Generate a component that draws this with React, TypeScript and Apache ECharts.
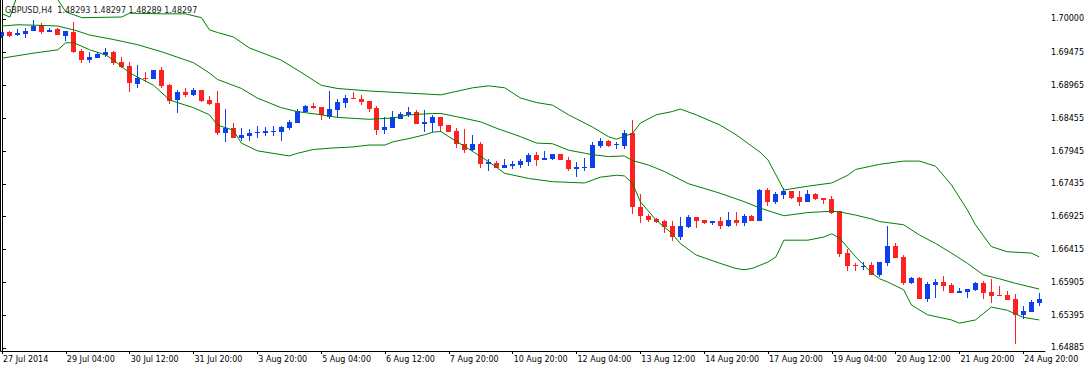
import React, { useEffect, useRef } from "react";
import * as echarts from "echarts";

const title = "GBPUSD,H4  1.48293 1.48297 1.48289 1.48297";

// x-axis tick labels, one every 8 H4 bars starting at bar 0
const tickLabels = [
  "27 Jul 2014", "29 Jul 04:00", "30 Jul 12:00", "31 Jul 20:00", "3 Aug 20:00", "5 Aug 04:00",
  "6 Aug 12:00", "7 Aug 20:00", "10 Aug 20:00", "12 Aug 04:00", "13 Aug 12:00", "14 Aug 20:00",
  "17 Aug 20:00", "19 Aug 04:00", "20 Aug 12:00", "21 Aug 20:00", "24 Aug 20:00",
];

const priceTicks = [1.70000, 1.69475, 1.68965, 1.68455, 1.67945, 1.67435, 1.66925, 1.66415, 1.65905, 1.65395, 1.64885];

const opens = [
  1.6974, 1.6980, 1.6975, 1.6977, 1.6982, 1.6990, 1.6980, 1.6984, 1.6974, 1.6980,
  1.6950, 1.6936, 1.6940, 1.6944, 1.6949, 1.6933, 1.6927, 1.6899, 1.6908, 1.6907,
  1.6920, 1.6897, 1.6874, 1.6886, 1.6881, 1.6889, 1.6874, 1.6869, 1.6823, 1.6830,
  1.6815, 1.6818, 1.6822, 1.6823, 1.6824, 1.6824, 1.6831, 1.6839, 1.6856, 1.6865,
  1.6863, 1.6847, 1.6859, 1.6870, 1.6877, 1.6876, 1.6872, 1.6862, 1.6827, 1.6830,
  1.6845, 1.6850, 1.6855, 1.6837, 1.6839, 1.6848, 1.6835, 1.6826, 1.6806, 1.6796,
  1.6806, 1.6774, 1.6776, 1.6769, 1.6771, 1.6773, 1.6778, 1.6789, 1.6781, 1.6783,
  1.6790, 1.6781, 1.6766, 1.6769, 1.6769, 1.6803, 1.6810, 1.6804, 1.6803, 1.6823,
  1.6708, 1.6694, 1.6689, 1.6686, 1.6678, 1.6661, 1.6677, 1.6692, 1.6687, 1.6683,
  1.6686, 1.6678, 1.6687, 1.6683, 1.6694, 1.6686, 1.6734, 1.6715, 1.6726, 1.6733,
  1.6723, 1.6715, 1.6728, 1.6722, 1.6720, 1.6701, 1.6636, 1.6617, 1.6615, 1.6617,
  1.6602, 1.6620, 1.6647, 1.6630, 1.6589, 1.6597, 1.6565, 1.6586, 1.6591, 1.6586,
  1.6574, 1.6575, 1.6579, 1.6589, 1.6575, 1.6571, 1.6571, 1.6565, 1.6540, 1.6544,
  1.6558,
];
const highs = [
  1.6980, 1.6981, 1.6984, 1.6986, 1.6999, 1.6993, 1.6986, 1.6986, 1.6981, 1.6995,
  1.6953, 1.6948, 1.6948, 1.6955, 1.6950, 1.6941, 1.6933, 1.6928, 1.6917, 1.6920,
  1.6925, 1.6899, 1.6889, 1.6892, 1.6892, 1.6889, 1.6880, 1.6888, 1.6860, 1.6838,
  1.6830, 1.6829, 1.6834, 1.6832, 1.6834, 1.6834, 1.6843, 1.6860, 1.6867, 1.6869,
  1.6863, 1.6888, 1.6875, 1.6882, 1.6886, 1.6882, 1.6872, 1.6865, 1.6848, 1.6857,
  1.6855, 1.6863, 1.6858, 1.6858, 1.6851, 1.6848, 1.6835, 1.6830, 1.6829, 1.6820,
  1.6809, 1.6782, 1.6779, 1.6782, 1.6779, 1.6782, 1.6792, 1.6793, 1.6795, 1.6790,
  1.6790, 1.6786, 1.6778, 1.6784, 1.6809, 1.6815, 1.6812, 1.6809, 1.6827, 1.6843,
  1.6728, 1.6697, 1.6690, 1.6687, 1.6686, 1.6692, 1.6695, 1.6692, 1.6687, 1.6686,
  1.6692, 1.6700, 1.6700, 1.6697, 1.6695, 1.6736, 1.6737, 1.6731, 1.6737, 1.6733,
  1.6733, 1.6734, 1.6729, 1.6722, 1.6725, 1.6701, 1.6642, 1.6621, 1.6622, 1.6622,
  1.6622, 1.6678, 1.6652, 1.6633, 1.6599, 1.6599, 1.6591, 1.6596, 1.6600, 1.6589,
  1.6582, 1.6580, 1.6591, 1.6593, 1.6596, 1.6585, 1.6577, 1.6572, 1.6554, 1.6563,
  1.6574,
];
const lows = [
  1.6970, 1.6972, 1.6974, 1.6971, 1.6982, 1.6977, 1.6979, 1.6975, 1.6966, 1.6947,
  1.6932, 1.6932, 1.6940, 1.6941, 1.6928, 1.6923, 1.6887, 1.6892, 1.6902, 1.6907,
  1.6892, 1.6868, 1.6854, 1.6878, 1.6880, 1.6871, 1.6866, 1.6820, 1.6809, 1.6815,
  1.6811, 1.6811, 1.6815, 1.6818, 1.6818, 1.6811, 1.6828, 1.6839, 1.6856, 1.6860,
  1.6843, 1.6844, 1.6847, 1.6862, 1.6875, 1.6867, 1.6856, 1.6820, 1.6821, 1.6830,
  1.6845, 1.6848, 1.6837, 1.6824, 1.6824, 1.6824, 1.6824, 1.6800, 1.6792, 1.6795,
  1.6769, 1.6764, 1.6769, 1.6769, 1.6766, 1.6769, 1.6772, 1.6772, 1.6780, 1.6780,
  1.6780, 1.6764, 1.6755, 1.6764, 1.6769, 1.6799, 1.6801, 1.6798, 1.6798, 1.6697,
  1.6683, 1.6685, 1.6683, 1.6667, 1.6655, 1.6657, 1.6675, 1.6675, 1.6681, 1.6680,
  1.6673, 1.6677, 1.6678, 1.6678, 1.6686, 1.6686, 1.6709, 1.6712, 1.6720, 1.6720,
  1.6709, 1.6715, 1.6719, 1.6712, 1.6697, 1.6630, 1.6608, 1.6608, 1.6610, 1.6602,
  1.6599, 1.6616, 1.6628, 1.6586, 1.6588, 1.6565, 1.6560, 1.6566, 1.6577, 1.6574,
  1.6574, 1.6566, 1.6577, 1.6565, 1.6558, 1.6569, 1.6563, 1.6495, 1.6533, 1.6544,
  1.6554,
];
const closes = [
  1.6980, 1.6974, 1.6978, 1.6982, 1.6989, 1.6980, 1.6983, 1.6975, 1.6981, 1.6948,
  1.6936, 1.6941, 1.6946, 1.6949, 1.6932, 1.6926, 1.6900, 1.6908, 1.6907, 1.6920,
  1.6896, 1.6873, 1.6886, 1.6881, 1.6889, 1.6872, 1.6868, 1.6823, 1.6830, 1.6815,
  1.6820, 1.6823, 1.6824, 1.6826, 1.6826, 1.6832, 1.6840, 1.6857, 1.6864, 1.6862,
  1.6850, 1.6860, 1.6871, 1.6877, 1.6875, 1.6871, 1.6860, 1.6827, 1.6832, 1.6848,
  1.6853, 1.6855, 1.6837, 1.6840, 1.6848, 1.6834, 1.6824, 1.6805, 1.6796, 1.6806,
  1.6775, 1.6777, 1.6769, 1.6773, 1.6775, 1.6779, 1.6789, 1.6781, 1.6784, 1.6790,
  1.6780, 1.6766, 1.6770, 1.6770, 1.6804, 1.6810, 1.6803, 1.6805, 1.6823, 1.6707,
  1.6693, 1.6688, 1.6684, 1.6677, 1.6661, 1.6678, 1.6692, 1.6686, 1.6683, 1.6686,
  1.6678, 1.6687, 1.6683, 1.6694, 1.6686, 1.6734, 1.6715, 1.6728, 1.6733, 1.6722,
  1.6715, 1.6728, 1.6720, 1.6719, 1.6698, 1.6635, 1.6616, 1.6616, 1.6616, 1.6602,
  1.6622, 1.6647, 1.6628, 1.6589, 1.6597, 1.6565, 1.6588, 1.6591, 1.6585, 1.6574,
  1.6577, 1.6580, 1.6589, 1.6574, 1.6569, 1.6570, 1.6563, 1.6540, 1.6546, 1.6560,
  1.6565,
];

// Bollinger band readings: [bar index, price]
const upperBand: [number, number][] = [
  [0, 1.7008], [1, 1.7003], [2, 1.7040], [6, 1.7040], [7, 1.7030], [8, 1.7011], [10, 1.7002],
  [15, 1.7003], [16, 1.7009], [20, 1.7008], [23, 1.7008], [25, 1.7002], [26, 1.6983], [27, 1.6979],
  [29, 1.6972], [31, 1.6955], [35, 1.6936], [38, 1.6913], [40, 1.6897], [42, 1.6892], [46, 1.6888],
  [49, 1.6886], [52, 1.6884], [55, 1.6882], [59, 1.6893], [61, 1.6896], [63, 1.6893], [65, 1.6877],
  [67, 1.6870], [69, 1.6866], [71, 1.6851], [74, 1.6832], [76, 1.6817], [77, 1.6813], [79, 1.6822],
  [80, 1.6838], [82, 1.6851], [84, 1.6856], [85, 1.6860], [87, 1.6851], [90, 1.6835], [92, 1.6820],
  [95, 1.6793], [96, 1.6781], [98, 1.6734], [101, 1.6740], [104, 1.6745], [106, 1.6757], [107, 1.6766],
  [110, 1.6774], [113, 1.6779], [115, 1.6779], [117, 1.6771], [119, 1.6742], [121, 1.6703], [122, 1.6680],
  [124, 1.6646], [126, 1.6638], [129, 1.6636], [130, 1.6630],
];
const middleBand: [number, number][] = [
  [0, 1.6989], [2, 1.6991], [5, 1.6990], [7, 1.6989], [9, 1.6983], [11, 1.6975], [14, 1.6968],
  [17, 1.6960], [20, 1.6949], [24, 1.6932], [26, 1.6916], [27, 1.6906], [30, 1.6892], [32, 1.6877],
  [35, 1.6862], [37, 1.6856], [40, 1.6851], [42, 1.6847], [46, 1.6844], [49, 1.6846], [51, 1.6851],
  [54, 1.6853], [55, 1.6853], [57, 1.6848], [60, 1.6840], [62, 1.6830], [65, 1.6817], [67, 1.6807],
  [69, 1.6806], [71, 1.6796], [74, 1.6789], [76, 1.6786], [78, 1.6787], [79, 1.6780], [81, 1.6773],
  [83, 1.6763], [86, 1.6744], [90, 1.6729], [93, 1.6716], [95, 1.6706], [97, 1.6698], [98, 1.6694],
  [101, 1.6699], [104, 1.6701], [105, 1.6700], [107, 1.6695], [109, 1.6689], [110, 1.6685], [113, 1.6680],
  [115, 1.6664], [117, 1.6651], [119, 1.6636], [121, 1.6620], [123, 1.6602], [125, 1.6596], [127, 1.6589],
  [130, 1.6580],
];
const lowerBand: [number, number][] = [
  [0, 1.6939], [4, 1.6947], [7, 1.6952], [8, 1.6963], [9, 1.6963], [11, 1.6952], [13, 1.6944],
  [14, 1.6936], [16, 1.6916], [19, 1.6897], [21, 1.6874], [24, 1.6862], [26, 1.6851], [27, 1.6835],
  [29, 1.6827], [30, 1.6807], [32, 1.6795], [36, 1.6787], [37, 1.6791], [39, 1.6797], [41, 1.6799],
  [44, 1.6801], [46, 1.6804], [48, 1.6804], [49, 1.6809], [51, 1.6814], [53, 1.6820], [54, 1.6824],
  [55, 1.6825], [56, 1.6817], [59, 1.6794], [61, 1.6778], [63, 1.6760], [66, 1.6752], [69, 1.6747],
  [73, 1.6745], [75, 1.6754], [77, 1.6757], [78, 1.6756], [79, 1.6745], [80, 1.6716], [82, 1.6687],
  [84, 1.6666], [85, 1.6651], [87, 1.6633], [90, 1.6620], [92, 1.6612], [93, 1.6610], [94, 1.6612],
  [96, 1.6622], [97, 1.6630], [98, 1.6656], [101, 1.6656], [103, 1.6661], [104, 1.6666], [105, 1.6659],
  [107, 1.6630], [109, 1.6605], [110, 1.6596], [111, 1.6591], [113, 1.6579], [114, 1.6555], [116, 1.6540],
  [119, 1.6532], [120, 1.6527], [122, 1.6532], [124, 1.6552], [126, 1.6547], [128, 1.6536], [130, 1.6532],
];

const BULL = "#0b3ff0";
const BEAR = "#ff2121";
const BAND = "#008000";
const FONT = "DejaVu Sans";

export default function App() {
  const ref = useRef<HTMLDivElement>(null);

  useEffect(() => {
    if (!ref.current) return;
    const chart = echarts.init(ref.current, undefined, { renderer: "svg" });
    const candleData = opens.map((o, i) => [i, o, highs[i], lows[i], closes[i]]);
    const bandSeries = (name: string, data: [number, number][]) => ({
      name,
      type: "line",
      data,
      symbol: "none",
      z: 5,
      lineStyle: { color: BAND, width: 1 },
      silent: true,
    });

    chart.setOption({
      animation: false,
      backgroundColor: "#ffffff",
      grid: { left: 0, right: 40, top: 0, bottom: 18, containLabel: false },
      xAxis: {
        type: "value",
        min: -0.1625,
        max: 130.7125,
        axisLine: { show: true, lineStyle: { color: "#000", width: 1 } },
        axisTick: {
          show: true,
          length: 3,
          lineStyle: { color: "#000" },
          customValues: tickLabels.map((_, k) => k * 8),
        },
        axisLabel: {
          show: true,
          customValues: tickLabels.map((_, k) => k * 8),
          formatter: (v: number) => tickLabels[Math.round(v / 8)] ?? "",
          align: "left",
          margin: 4,
          fontSize: 8,
          fontFamily: FONT,
          color: "#000",
          padding: [0, 0, 0, 1],
        },
        splitLine: { show: false },
      },
      yAxis: {
        type: "value",
        position: "right",
        min: 1.64837,
        max: 1.70295,
        scale: true,
        axisLine: { show: true, lineStyle: { color: "#000", width: 1 } },
        axisTick: { show: true, length: 4, lineStyle: { color: "#000" }, customValues: priceTicks },
        axisLabel: {
          show: true,
          customValues: priceTicks,
          formatter: (v: number) => v.toFixed(5),
          margin: 6,
          fontSize: 8,
          fontFamily: FONT,
          color: "#000",
        },
        splitLine: { show: false },
      },
      graphic: [
        {
          type: "line",
          shape: { x1: 0.5, y1: 0, x2: 0.5, y2: 351 },
          style: { stroke: "#000", lineWidth: 1 },
          z: 100,
        },
        {
          type: "text",
          x: 5,
          y: 10,
          z: 100,
          style: {
            text: title,
            font: `8px "${FONT}"`,
            fill: "#222",
            textVerticalAlign: "middle",
          },
        },
      ],
      series: [
        {
          type: "custom",
          name: "candles",
          data: candleData,
          clip: true,
          z: 2,
          encode: { x: 0, y: [1, 2, 3, 4] },
          renderItem: (params: any, api: any) => {
            const i = api.value(0);
            const o = api.value(1);
            const h = api.value(2);
            const l = api.value(3);
            const c = api.value(4);
            const po = api.coord([i, o]);
            const pc = api.coord([i, c]);
            const ph = api.coord([i, h]);
            const pl = api.coord([i, l]);
            const cx = Math.floor(po[0]);
            const color = c >= o ? BULL : BEAR;
            const yTop = Math.round(Math.min(po[1], pc[1]));
            const yBot = Math.round(Math.max(po[1], pc[1]));
            const yH = Math.round(ph[1]);
            const yL = Math.round(pl[1]);
            return {
              type: "group",
              children: [
                {
                  type: "rect",
                  shape: { x: cx, y: yH, width: 1, height: Math.max(1, yL - yH) },
                  style: { fill: color },
                },
                {
                  type: "rect",
                  shape: { x: cx - 2, y: yTop, width: 5, height: Math.max(1, yBot - yTop) },
                  style: { fill: color },
                },
              ],
            };
          },
        },
        bandSeries("upper", upperBand),
        bandSeries("middle", middleBand),
        bandSeries("lower", lowerBand),
      ],
    });
    return () => chart.dispose();
  }, []);

  return (
    <div
      ref={ref}
      style={{ position: "fixed", left: 0, top: 0, width: 1087, height: 369, background: "#fff" }}
    />
  );
}
